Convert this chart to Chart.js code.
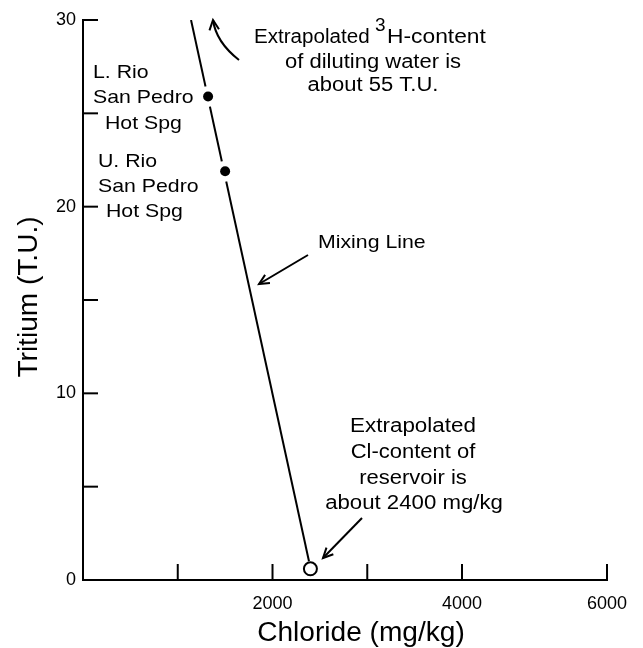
<!DOCTYPE html>
<html lang="en">
<head>
<meta charset="UTF-8">
<title>Tritium vs Chloride mixing line</title>
<script src="https://cdn.jsdelivr.net/npm/chart.js"></script>
<style>
  html, body { margin: 0; padding: 0; background: #fff; }
</style>
</head>
<body>
<canvas id="chart" width="643" height="648"></canvas>
<script>
  // values
  const springNames = ['L. Rio San Pedro Hot Spg', 'U. Rio San Pedro Hot Spg'];
  const springChloride = [1320, 1500];
  const springTritium = [25.9, 21.9];
  const reservoirChloride = [2400];
  const reservoirTritium = [0.6];
  const mixingChloride = [2385, 1140];
  const mixingTritium = [1.0, 30];

  // the printed axis ends at a tick labelled 6000
  const xAxisMax = 5530;
  const xTickValues = [1000, 2000, 3000, 4000, 5530];
  const xTickLabels = ['', '2000', '', '4000', '6000'];
  const yTickValues = [0, 5, 10, 15, 20, 25, 30];
  const yTickLabels = ['0', '', '10', '', '20', '', '30'];

  const FONT = '"Liberation Sans", Arial, Helvetica, sans-serif';

  const springs = springChloride.map((x, i) => ({ x, y: springTritium[i] }));
  const reservoir = reservoirChloride.map((x, i) => ({ x, y: reservoirTritium[i] }));
  const mixing = mixingChloride.map((x, i) => ({ x, y: mixingTritium[i] }));

  function text(ctx, s, x, y, size, align, sx) {
    ctx.save();
    ctx.font = size + 'px ' + FONT;
    ctx.textAlign = align;
    ctx.textBaseline = 'middle';
    ctx.fillStyle = '#000';
    ctx.translate(x, y);
    ctx.scale(sx || 1, 1);
    ctx.fillText(s, 0, 0);
    ctx.restore();
  }

  function arrowHead(ctx, tipX, tipY, fromX, fromY) {
    const a = Math.atan2(tipY - fromY, tipX - fromX);
    const len = 11, spread = 0.45;
    ctx.beginPath();
    ctx.moveTo(tipX - len * Math.cos(a - spread), tipY - len * Math.sin(a - spread));
    ctx.lineTo(tipX, tipY);
    ctx.lineTo(tipX - len * Math.cos(a + spread), tipY - len * Math.sin(a + spread));
    ctx.stroke();
  }

  function arrow(ctx, x1, y1, x2, y2) {
    ctx.beginPath();
    ctx.moveTo(x1, y1);
    ctx.lineTo(x2, y2);
    ctx.stroke();
    arrowHead(ctx, x2, y2, x1, y1);
  }

  const annotations = {
    id: 'annotations',
    afterDraw(chart) {
      const ctx = chart.ctx;
      const x = chart.scales.x, y = chart.scales.y;
      const area = chart.chartArea;
      ctx.save();
      ctx.strokeStyle = '#000';
      ctx.lineWidth = 2;
      ctx.lineCap = 'butt';

      // inward tick marks
      yTickValues.forEach(v => {
        if (v === 0) return;
        const p = y.getPixelForValue(v);
        ctx.beginPath();
        ctx.moveTo(area.left, p);
        ctx.lineTo(area.left + 15, p);
        ctx.stroke();
      });
      xTickValues.forEach(v => {
        const p = x.getPixelForValue(v);
        ctx.beginPath();
        ctx.moveTo(p, area.bottom);
        ctx.lineTo(p, area.bottom - 16);
        ctx.stroke();
      });

      // arrows
      arrow(ctx, 308, 255, 259, 284);
      arrow(ctx, 362, 518, 323, 558);
      ctx.beginPath();
      ctx.moveTo(239, 60);
      ctx.quadraticCurveTo(216, 42, 213, 20);
      ctx.stroke();
      arrowHead(ctx, 213, 20, 215, 36);

      // texts
      text(ctx, 'Extrapolated', 254, 37, 20, 'left', 1.03);
      text(ctx, '3', 375, 26, 19, 'left', 1.0);
      text(ctx, 'H-content', 387, 37, 20, 'left', 1.14);
      text(ctx, 'of diluting water is', 373, 62, 20, 'center', 1.1);
      text(ctx, 'about 55 T.U.', 373, 85, 20, 'center', 1.1);

      text(ctx, 'L. Rio', 93, 73, 19, 'left', 1.12);
      text(ctx, 'San Pedro', 93, 98, 19, 'left', 1.12);
      text(ctx, 'Hot Spg', 105, 124, 19, 'left', 1.12);
      text(ctx, 'U. Rio', 98, 162, 19, 'left', 1.12);
      text(ctx, 'San Pedro', 98, 187, 19, 'left', 1.12);
      text(ctx, 'Hot Spg', 106, 212, 19, 'left', 1.12);

      text(ctx, 'Mixing Line', 318, 243, 19, 'left', 1.12);

      text(ctx, 'Extrapolated', 413, 426, 20, 'center', 1.12);
      text(ctx, 'Cl-content of', 413, 452, 20, 'center', 1.1);
      text(ctx, 'reservoir is', 413, 478, 20, 'center', 1.1);
      text(ctx, 'about 2400 mg/kg', 414, 503, 20, 'center', 1.11);

      // axis titles
      text(ctx, 'Chloride (mg/kg)', 361, 634, 27, 'center', 1.04);
      ctx.save();
      ctx.translate(30, 297);
      ctx.rotate(-Math.PI / 2);
      text(ctx, 'Tritium (T.U.)', 0, 0, 27, 'center', 1.04);
      ctx.restore();

      ctx.restore();
    }
  };

  new Chart(document.getElementById('chart'), {
    type: 'scatter',
    data: {
      datasets: [
        {
          label: 'Hot springs',
          data: springs,
          pointRadius: 5,
          pointBackgroundColor: '#000',
          pointBorderWidth: 0
        },
        {
          label: 'gap',
          data: springs,
          pointRadius: 10.5,
          pointBackgroundColor: '#fff',
          pointBorderWidth: 0
        },
        {
          label: 'Reservoir',
          data: reservoir,
          pointRadius: 6.5,
          pointBackgroundColor: '#fff',
          pointBorderColor: '#000',
          pointBorderWidth: 2
        },
        {
          label: 'Mixing Line',
          data: mixing,
          showLine: true,
          borderColor: '#000',
          borderWidth: 2,
          pointRadius: 0
        }
      ]
    },
    options: {
      responsive: false,
      animation: false,
      events: [],
      layout: { padding: { top: 20, right: 36, left: 0, bottom: 0 } },
      plugins: {
        legend: { display: false },
        tooltip: { enabled: false }
      },
      scales: {
        x: {
          type: 'linear',
          min: 0,
          max: xAxisMax,
          afterFit: s => { s.height = 68; },
          afterBuildTicks: s => { s.ticks = xTickValues.map(v => ({ value: v })); },
          ticks: {
            callback: (v, i) => xTickLabels[i],
            font: { family: FONT, size: 18 },
            color: '#000',
            padding: 13,
            maxRotation: 0,
            autoSkip: false
          },
          grid: { display: false, drawTicks: false },
          border: { display: true, color: '#000', width: 2 }
        },
        y: {
          min: 0,
          max: 30,
          afterFit: s => { s.width = 83; },
          afterBuildTicks: s => { s.ticks = yTickValues.map(v => ({ value: v })); },
          ticks: {
            callback: (v, i) => yTickLabels[i],
            font: { family: FONT, size: 18 },
            color: '#000',
            padding: 7,
            autoSkip: false
          },
          grid: { display: false, drawTicks: false },
          border: { display: true, color: '#000', width: 2 }
        }
      }
    },
    plugins: [annotations]
  });
</script>
</body>
</html>
